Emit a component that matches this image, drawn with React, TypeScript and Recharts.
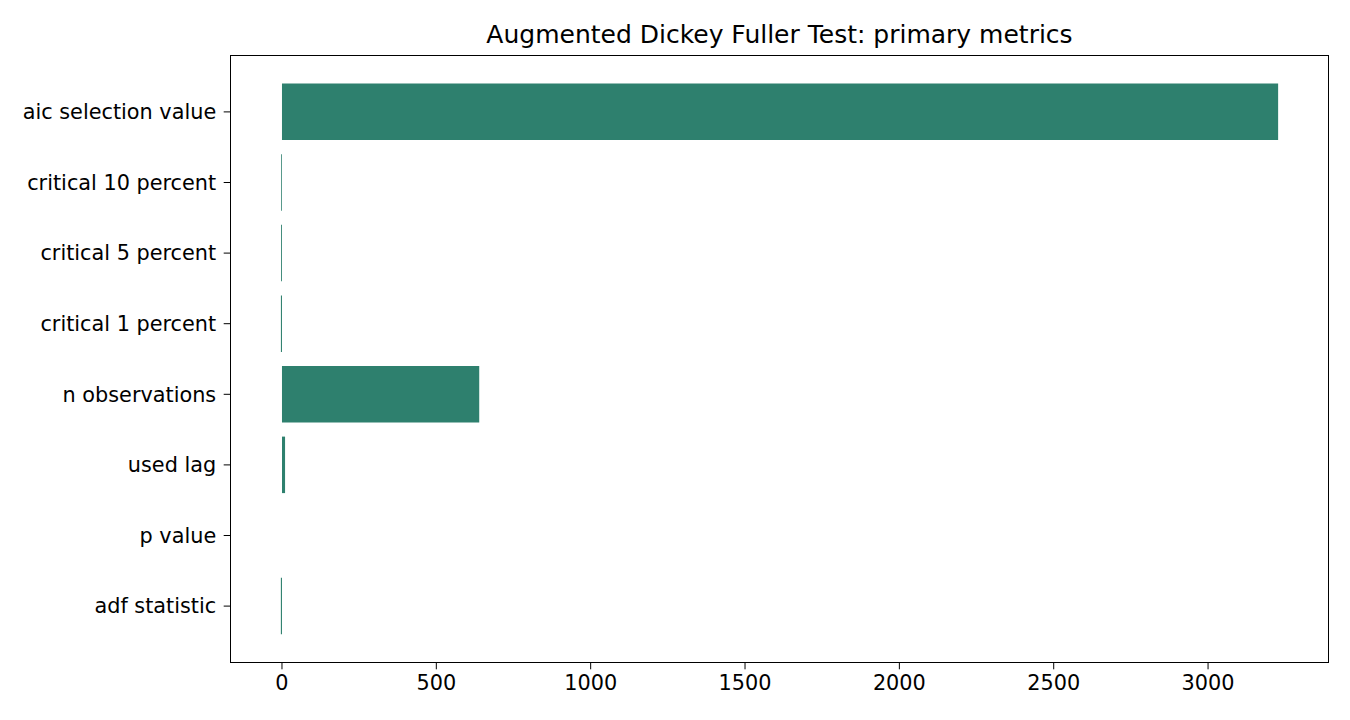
import React from "react";
import { BarChart, Bar, XAxis, YAxis } from "recharts";

// ADF test results, listed top to bottom as they appear on the chart
const metricNames = [
  "aic selection value",
  "critical 10 percent",
  "critical 5 percent",
  "critical 1 percent",
  "n observations",
  "used lag",
  "p value",
  "adf statistic",
];
const metricValues = [3227, -2.57, -2.87, -3.44, 639, 10, 0.002, -3.6];
const xTicks = [0, 500, 1000, 1500, 2000, 2500, 3000];

const BAR_COLOR = "#2e806e";
const FONT = "'DejaVu Sans', sans-serif";

const chartData = metricNames.map((name, i) => ({ name, value: metricValues[i] }));

// matplotlib-like 5% margins around the data range
const vMin = Math.min(0, ...metricValues);
const vMax = Math.max(0, ...metricValues);
const pad = (vMax - vMin) * 0.05;
const xDomain = [vMin - pad, vMax + pad];

const W = 1350;
const H = 720;
const M = { top: 56, right: 22, bottom: 0, left: 0 };
const Y_AXIS_W = 231;
const X_AXIS_H = 58;
const TICK_FONT = 20.8;

export default function App() {
  const plotLeft = M.left + Y_AXIS_W;
  const plotTop = M.top;
  const plotW = W - plotLeft - M.right;
  const plotH = H - M.top - M.bottom - X_AXIS_H;

  return (
    <div style={{ position: "absolute", left: 0, top: 0, width: W, height: H, background: "#fff", fontFamily: FONT }}>
      <div
        style={{
          position: "absolute",
          left: plotLeft,
          width: plotW,
          top: 19,
          textAlign: "center",
          fontSize: 25,
          color: "#000",
          lineHeight: "32px",
        }}
      >
        Augmented Dickey Fuller Test: primary metrics
      </div>
      <BarChart
        width={W}
        height={H}
        data={chartData}
        layout="vertical"
        margin={M}
        barCategoryGap={0}
      >
        <XAxis
          type="number"
          domain={xDomain}
          ticks={xTicks}
          allowDataOverflow
          height={X_AXIS_H}
          stroke="#000"
          tickSize={7.3}
          tickMargin={6}
          tick={{ fill: "#000", fontSize: TICK_FONT, fontFamily: FONT }}
          axisLine={false}
        />
        <YAxis
          type="category"
          dataKey="name"
          width={Y_AXIS_W}
          padding={{ top: 20.6, bottom: 20.6 }}
          stroke="#000"
          tickSize={7.3}
          tickMargin={7.5}
          tick={{ fill: "#000", fontSize: TICK_FONT, fontFamily: FONT }}
          axisLine={false}
        />
        <Bar dataKey="value" fill={BAR_COLOR} barSize={56.5} isAnimationActive={false} />
      </BarChart>
      <div
        style={{
          position: "absolute",
          left: plotLeft - 0.8,
          top: plotTop - 0.8,
          width: plotW,
          height: plotH,
          border: "1.6px solid #000",
          pointerEvents: "none",
        }}
      />
    </div>
  );
}
